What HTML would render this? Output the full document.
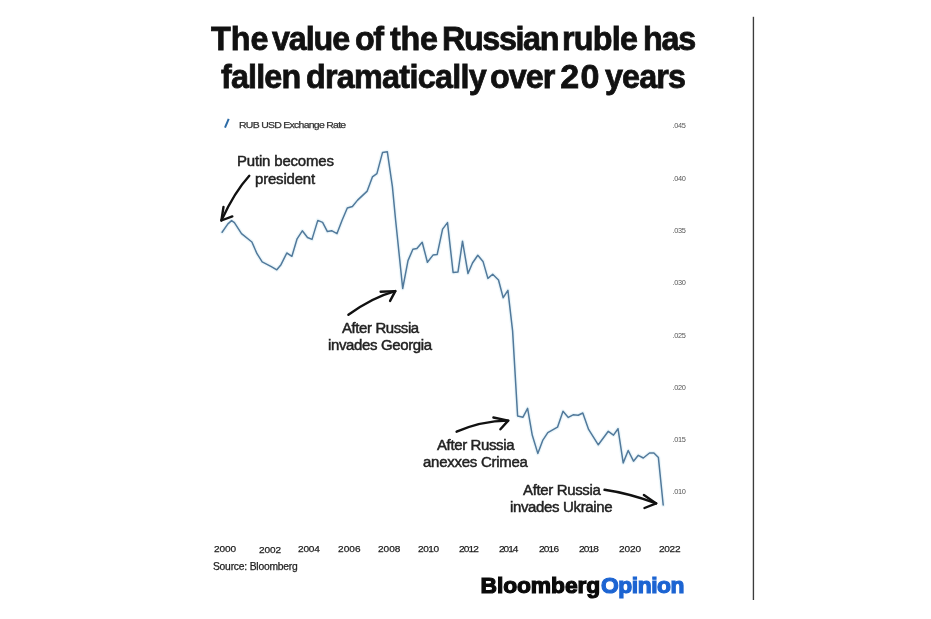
<!DOCTYPE html>
<html lang="en">
<head>
<meta charset="utf-8">
<title>The value of the Russian ruble has fallen dramatically over 20 years</title>
<style>
html,body{margin:0;padding:0;background:#fff}
#c{position:relative;width:931px;height:619px;overflow:hidden;background:#fff;font-family:"Liberation Sans", sans-serif}
#c span{position:absolute;white-space:nowrap;line-height:1}
#c svg{position:absolute;left:0;top:0}
#c h1,#c div{margin:0;padding:0;font:inherit}
</style>
</head>
<body>
<div id="c">
<!-- chart graphics: series line, legend swatch, hand-drawn arrows, right rule -->
<svg width="931" height="619" viewBox="0 0 931 619" fill="none"><rect x="752.75" y="16.8" width="1.35" height="583.2" fill="#3c3c3c"/><polyline points="222.1,232.3 227.9,223.9 231.6,220.6 234.4,222.6 241.5,233.6 251.9,242.0 257.0,253.7 262.2,261.8 271.3,266.6 276.8,269.8 281.0,264.7 286.8,253.0 291.9,256.3 297.1,238.8 302.3,230.8 307.5,237.5 312.0,239.4 317.8,220.4 322.6,222.4 327.4,231.6 331.6,230.7 337.0,233.6 342.0,220.5 347.3,208.0 352.4,206.5 357.6,200.1 367.2,191.1 372.4,176.9 376.9,173.6 382.5,152.6 387.3,151.7 392.4,186.6 395.6,220.0 402.7,288.5 408.0,260.6 412.9,249.3 416.9,248.5 422.2,242.2 427.4,262.2 433.0,255.1 437.2,254.4 442.6,229.1 447.5,222.6 453.1,272.4 458.0,271.9 462.5,241.2 468.0,273.5 472.5,263.0 477.8,255.3 483.0,261.4 487.9,278.4 492.7,274.3 498.5,280.0 503.2,297.7 507.9,290.3 512.6,330.9 517.6,416.0 523.0,417.2 527.6,408.3 532.3,435.3 537.8,453.4 542.7,440.4 547.8,432.7 557.5,427.2 563.0,411.3 568.3,417.4 573.1,414.8 578.2,415.2 582.8,413.0 588.6,429.4 598.3,444.8 608.3,431.3 613.5,435.1 618.0,428.7 623.2,462.9 628.2,450.5 633.5,461.2 638.3,455.3 643.3,458.0 649.5,453.0 653.9,453.0 658.4,457.6 663.2,505.0" stroke="#bfe0ee" stroke-opacity="0.3" stroke-width="4" stroke-linejoin="round" stroke-linecap="round"/><polyline points="222.1,232.3 227.9,223.9 231.6,220.6 234.4,222.6 241.5,233.6 251.9,242.0 257.0,253.7 262.2,261.8 271.3,266.6 276.8,269.8 281.0,264.7 286.8,253.0 291.9,256.3 297.1,238.8 302.3,230.8 307.5,237.5 312.0,239.4 317.8,220.4 322.6,222.4 327.4,231.6 331.6,230.7 337.0,233.6 342.0,220.5 347.3,208.0 352.4,206.5 357.6,200.1 367.2,191.1 372.4,176.9 376.9,173.6 382.5,152.6 387.3,151.7 392.4,186.6 395.6,220.0 402.7,288.5 408.0,260.6 412.9,249.3 416.9,248.5 422.2,242.2 427.4,262.2 433.0,255.1 437.2,254.4 442.6,229.1 447.5,222.6 453.1,272.4 458.0,271.9 462.5,241.2 468.0,273.5 472.5,263.0 477.8,255.3 483.0,261.4 487.9,278.4 492.7,274.3 498.5,280.0 503.2,297.7 507.9,290.3 512.6,330.9 517.6,416.0 523.0,417.2 527.6,408.3 532.3,435.3 537.8,453.4 542.7,440.4 547.8,432.7 557.5,427.2 563.0,411.3 568.3,417.4 573.1,414.8 578.2,415.2 582.8,413.0 588.6,429.4 598.3,444.8 608.3,431.3 613.5,435.1 618.0,428.7 623.2,462.9 628.2,450.5 633.5,461.2 638.3,455.3 643.3,458.0 649.5,453.0 653.9,453.0 658.4,457.6 663.2,505.0" stroke="#51799b" stroke-width="1.5" stroke-linejoin="round" stroke-linecap="round"/><line x1="225" y1="127.6" x2="228.7" y2="118.8" stroke="#2c6ba6" stroke-width="2"/><path d="M249.3 175.8 Q234.5 192 221.4 220.5" stroke="#111" stroke-width="2.4" stroke-linecap="round" stroke-linejoin="round"/><path d="M223.5 206.9 L221.4 220.5 L232.3 216.4" stroke="#111" stroke-width="2.4" stroke-linecap="round" stroke-linejoin="round"/><path d="M348.4 314.8 Q372 297.5 395.3 291.1" stroke="#111" stroke-width="2.4" stroke-linecap="round" stroke-linejoin="round"/><path d="M380.6 291.8 L395.3 291.1 L390.1 300.9" stroke="#111" stroke-width="2.4" stroke-linecap="round" stroke-linejoin="round"/><path d="M456.6 431.7 Q480.6 421 508.2 420.6" stroke="#111" stroke-width="2.4" stroke-linecap="round" stroke-linejoin="round"/><path d="M493.4 417.5 L508.2 420.6 L500.4 429.3" stroke="#111" stroke-width="2.4" stroke-linecap="round" stroke-linejoin="round"/><path d="M604.5 489.8 Q628.4 493.2 656.2 503.4" stroke="#111" stroke-width="2.4" stroke-linecap="round" stroke-linejoin="round"/><path d="M643.9 494.9 L656.2 503.4 L644.5 508" stroke="#111" stroke-width="2.4" stroke-linecap="round" stroke-linejoin="round"/></svg>
<h1 class="title">
<span id="t0" style="left:210.88px;top:21.00px;font-size:34px;font-weight:700;color:#111;letter-spacing:-0.005px;transform:scaleX(0.9500);transform-origin:0 0;-webkit-text-stroke:0.8px #111">The</span>
<span id="t1" style="left:272.28px;top:21.00px;font-size:34px;font-weight:700;color:#111;letter-spacing:-1.174px;transform:scaleX(0.9500);transform-origin:0 0;-webkit-text-stroke:0.8px #111">value</span>
<span id="t2" style="left:354.73px;top:21.00px;font-size:34px;font-weight:700;color:#111;letter-spacing:-1.484px;transform:scaleX(0.9500);transform-origin:0 0;-webkit-text-stroke:0.8px #111">of</span>
<span id="t3" style="left:389.78px;top:21.00px;font-size:34px;font-weight:700;color:#111;letter-spacing:-0.242px;transform:scaleX(0.9500);transform-origin:0 0;-webkit-text-stroke:0.8px #111">the</span>
<span id="t4" style="left:441.88px;top:21.00px;font-size:34px;font-weight:700;color:#111;letter-spacing:-1.449px;transform:scaleX(0.9500);transform-origin:0 0;-webkit-text-stroke:0.8px #111">Russian</span>
<span id="t5" style="left:562.48px;top:21.00px;font-size:34px;font-weight:700;color:#111;letter-spacing:-0.779px;transform:scaleX(0.9500);transform-origin:0 0;-webkit-text-stroke:0.8px #111">ruble</span>
<span id="t6" style="left:642.78px;top:21.00px;font-size:34px;font-weight:700;color:#111;letter-spacing:-1.268px;transform:scaleX(0.9500);transform-origin:0 0;-webkit-text-stroke:0.8px #111">has</span>
<span id="t7" style="left:220.88px;top:58.70px;font-size:34px;font-weight:700;color:#111;letter-spacing:-0.886px;transform:scaleX(0.9500);transform-origin:0 0;-webkit-text-stroke:0.8px #111">fallen</span>
<span id="t8" style="left:305.63px;top:58.70px;font-size:34px;font-weight:700;color:#111;letter-spacing:-0.757px;transform:scaleX(0.9500);transform-origin:0 0;-webkit-text-stroke:0.8px #111">dramatically</span>
<span id="t9" style="left:490.43px;top:58.70px;font-size:34px;font-weight:700;color:#111;letter-spacing:-1.039px;transform:scaleX(0.9500);transform-origin:0 0;-webkit-text-stroke:0.8px #111">over</span>
<span id="t10" style="left:560.30px;top:58.70px;font-size:34px;font-weight:700;color:#111;letter-spacing:1.200px;-webkit-text-stroke:0.8px #111">20</span>
<span id="t11" style="left:604.98px;top:58.70px;font-size:34px;font-weight:700;color:#111;letter-spacing:-0.884px;transform:scaleX(0.9500);transform-origin:0 0;-webkit-text-stroke:0.8px #111">years</span>
</h1>
<div class="legend">
<span id="t12" style="left:238.96px;top:119.50px;font-size:9.7px;font-weight:400;color:#333;letter-spacing:-0.664px;transform:scaleX(1.0800);transform-origin:0 0;-webkit-text-stroke:0.25px #333">RUB USD Exchange Rate</span>
</div>
<div class="notes">
<span id="t13" style="left:237.17px;top:154.00px;font-size:14px;font-weight:400;color:#222;letter-spacing:-0.168px;transform:scaleX(1.0700);transform-origin:0 0;-webkit-text-stroke:0.45px #222">Putin becomes</span>
<span id="t14" style="left:254.97px;top:171.50px;font-size:14px;font-weight:400;color:#222;letter-spacing:-0.172px;transform:scaleX(1.0700);transform-origin:0 0;-webkit-text-stroke:0.45px #222">president</span>
<span id="t15" style="left:341.74px;top:320.80px;font-size:14px;font-weight:400;color:#222;letter-spacing:-0.374px;transform:scaleX(1.0700);transform-origin:0 0;-webkit-text-stroke:0.45px #222">After Russia</span>
<span id="t16" style="left:327.57px;top:338.00px;font-size:14px;font-weight:400;color:#222;letter-spacing:-0.331px;transform:scaleX(1.0700);transform-origin:0 0;-webkit-text-stroke:0.45px #222">invades Georgia</span>
<span id="t17" style="left:437.44px;top:438.00px;font-size:14px;font-weight:400;color:#222;letter-spacing:-0.348px;transform:scaleX(1.0700);transform-origin:0 0;-webkit-text-stroke:0.45px #222">After Russia</span>
<span id="t18" style="left:423.27px;top:455.00px;font-size:14px;font-weight:400;color:#222;letter-spacing:-0.236px;transform:scaleX(1.0700);transform-origin:0 0;-webkit-text-stroke:0.45px #222">anexxes Crimea</span>
<span id="t19" style="left:522.64px;top:483.00px;font-size:14px;font-weight:400;color:#222;letter-spacing:-0.323px;transform:scaleX(1.0700);transform-origin:0 0;-webkit-text-stroke:0.45px #222">After Russia</span>
<span id="t20" style="left:509.57px;top:500.00px;font-size:14px;font-weight:400;color:#222;letter-spacing:-0.321px;transform:scaleX(1.0700);transform-origin:0 0;-webkit-text-stroke:0.45px #222">invades Ukraine</span>
</div>
<div class="yaxis">
<span id="t21" style="left:672.60px;top:122.30px;font-size:7.4px;font-weight:400;color:#555;letter-spacing:-0.400px">.045</span>
<span id="t22" style="left:672.60px;top:174.60px;font-size:7.4px;font-weight:400;color:#555;letter-spacing:-0.400px">.040</span>
<span id="t23" style="left:672.60px;top:226.90px;font-size:7.4px;font-weight:400;color:#555;letter-spacing:-0.400px">.035</span>
<span id="t24" style="left:672.60px;top:279.20px;font-size:7.4px;font-weight:400;color:#555;letter-spacing:-0.400px">.030</span>
<span id="t25" style="left:672.60px;top:331.50px;font-size:7.4px;font-weight:400;color:#555;letter-spacing:-0.400px">.025</span>
<span id="t26" style="left:672.60px;top:383.80px;font-size:7.4px;font-weight:400;color:#555;letter-spacing:-0.400px">.020</span>
<span id="t27" style="left:672.60px;top:436.10px;font-size:7.4px;font-weight:400;color:#555;letter-spacing:-0.400px">.015</span>
<span id="t28" style="left:672.60px;top:488.40px;font-size:7.4px;font-weight:400;color:#555;letter-spacing:-0.400px">.010</span>
</div>
<div class="xaxis">
<span id="t29" style="left:213.93px;top:543.60px;font-size:9.6px;font-weight:400;color:#222;letter-spacing:-0.067px;transform:scaleX(1.0500);transform-origin:0 0;-webkit-text-stroke:0.25px #222">2000</span>
<span id="t30" style="left:258.63px;top:544.50px;font-size:9.6px;font-weight:400;color:#222;letter-spacing:-0.131px;transform:scaleX(1.0500);transform-origin:0 0;-webkit-text-stroke:0.25px #222">2002</span>
<span id="t31" style="left:298.13px;top:543.60px;font-size:9.6px;font-weight:400;color:#222;letter-spacing:-0.194px;transform:scaleX(1.0500);transform-origin:0 0;-webkit-text-stroke:0.25px #222">2004</span>
<span id="t32" style="left:338.03px;top:543.60px;font-size:9.6px;font-weight:400;color:#222;letter-spacing:0.060px;transform:scaleX(1.0500);transform-origin:0 0;-webkit-text-stroke:0.25px #222">2006</span>
<span id="t33" style="left:378.23px;top:543.80px;font-size:9.6px;font-weight:400;color:#222;letter-spacing:-0.004px;transform:scaleX(1.0500);transform-origin:0 0;-webkit-text-stroke:0.25px #222">2008</span>
<span id="t34" style="left:418.13px;top:544.10px;font-size:9.6px;font-weight:400;color:#222;letter-spacing:-0.417px;transform:scaleX(1.0500);transform-origin:0 0;-webkit-text-stroke:0.25px #222">2010</span>
<span id="t35" style="left:458.63px;top:544.20px;font-size:9.6px;font-weight:400;color:#222;letter-spacing:-0.829px;transform:scaleX(1.0500);transform-origin:0 0;-webkit-text-stroke:0.25px #222">2012</span>
<span id="t36" style="left:499.03px;top:544.20px;font-size:9.6px;font-weight:400;color:#222;letter-spacing:-0.956px;transform:scaleX(1.0500);transform-origin:0 0;-webkit-text-stroke:0.25px #222">2014</span>
<span id="t37" style="left:538.93px;top:544.20px;font-size:9.6px;font-weight:400;color:#222;letter-spacing:-0.766px;transform:scaleX(1.0500);transform-origin:0 0;-webkit-text-stroke:0.25px #222">2016</span>
<span id="t38" style="left:578.93px;top:544.40px;font-size:9.6px;font-weight:400;color:#222;letter-spacing:-0.798px;transform:scaleX(1.0500);transform-origin:0 0;-webkit-text-stroke:0.25px #222">2018</span>
<span id="t39" style="left:619.13px;top:544.40px;font-size:9.6px;font-weight:400;color:#222;letter-spacing:-0.131px;transform:scaleX(1.0500);transform-origin:0 0;-webkit-text-stroke:0.25px #222">2020</span>
<span id="t40" style="left:659.33px;top:544.40px;font-size:9.6px;font-weight:400;color:#222;letter-spacing:-0.290px;transform:scaleX(1.0500);transform-origin:0 0;-webkit-text-stroke:0.25px #222">2022</span>
</div>
<div class="source">
<span id="t41" style="left:212.93px;top:561.50px;font-size:10.3px;font-weight:400;color:#222;letter-spacing:-0.203px;-webkit-text-stroke:0.25px #222">Source: Bloomberg</span>
</div>
<div class="logo">
<span id="t42" style="left:480.50px;top:574.10px;font-size:22.8px;font-weight:700;color:#0a0a0a;letter-spacing:-0.075px;-webkit-text-stroke:1.2px #0a0a0a">Bloomberg</span>
<span id="t43" style="left:600.90px;top:574.10px;font-size:22.8px;font-weight:700;color:#1c64d2;letter-spacing:-0.417px;-webkit-text-stroke:1.2px #1c64d2">Opinion</span>
</div>
</div>
</body>
</html>
